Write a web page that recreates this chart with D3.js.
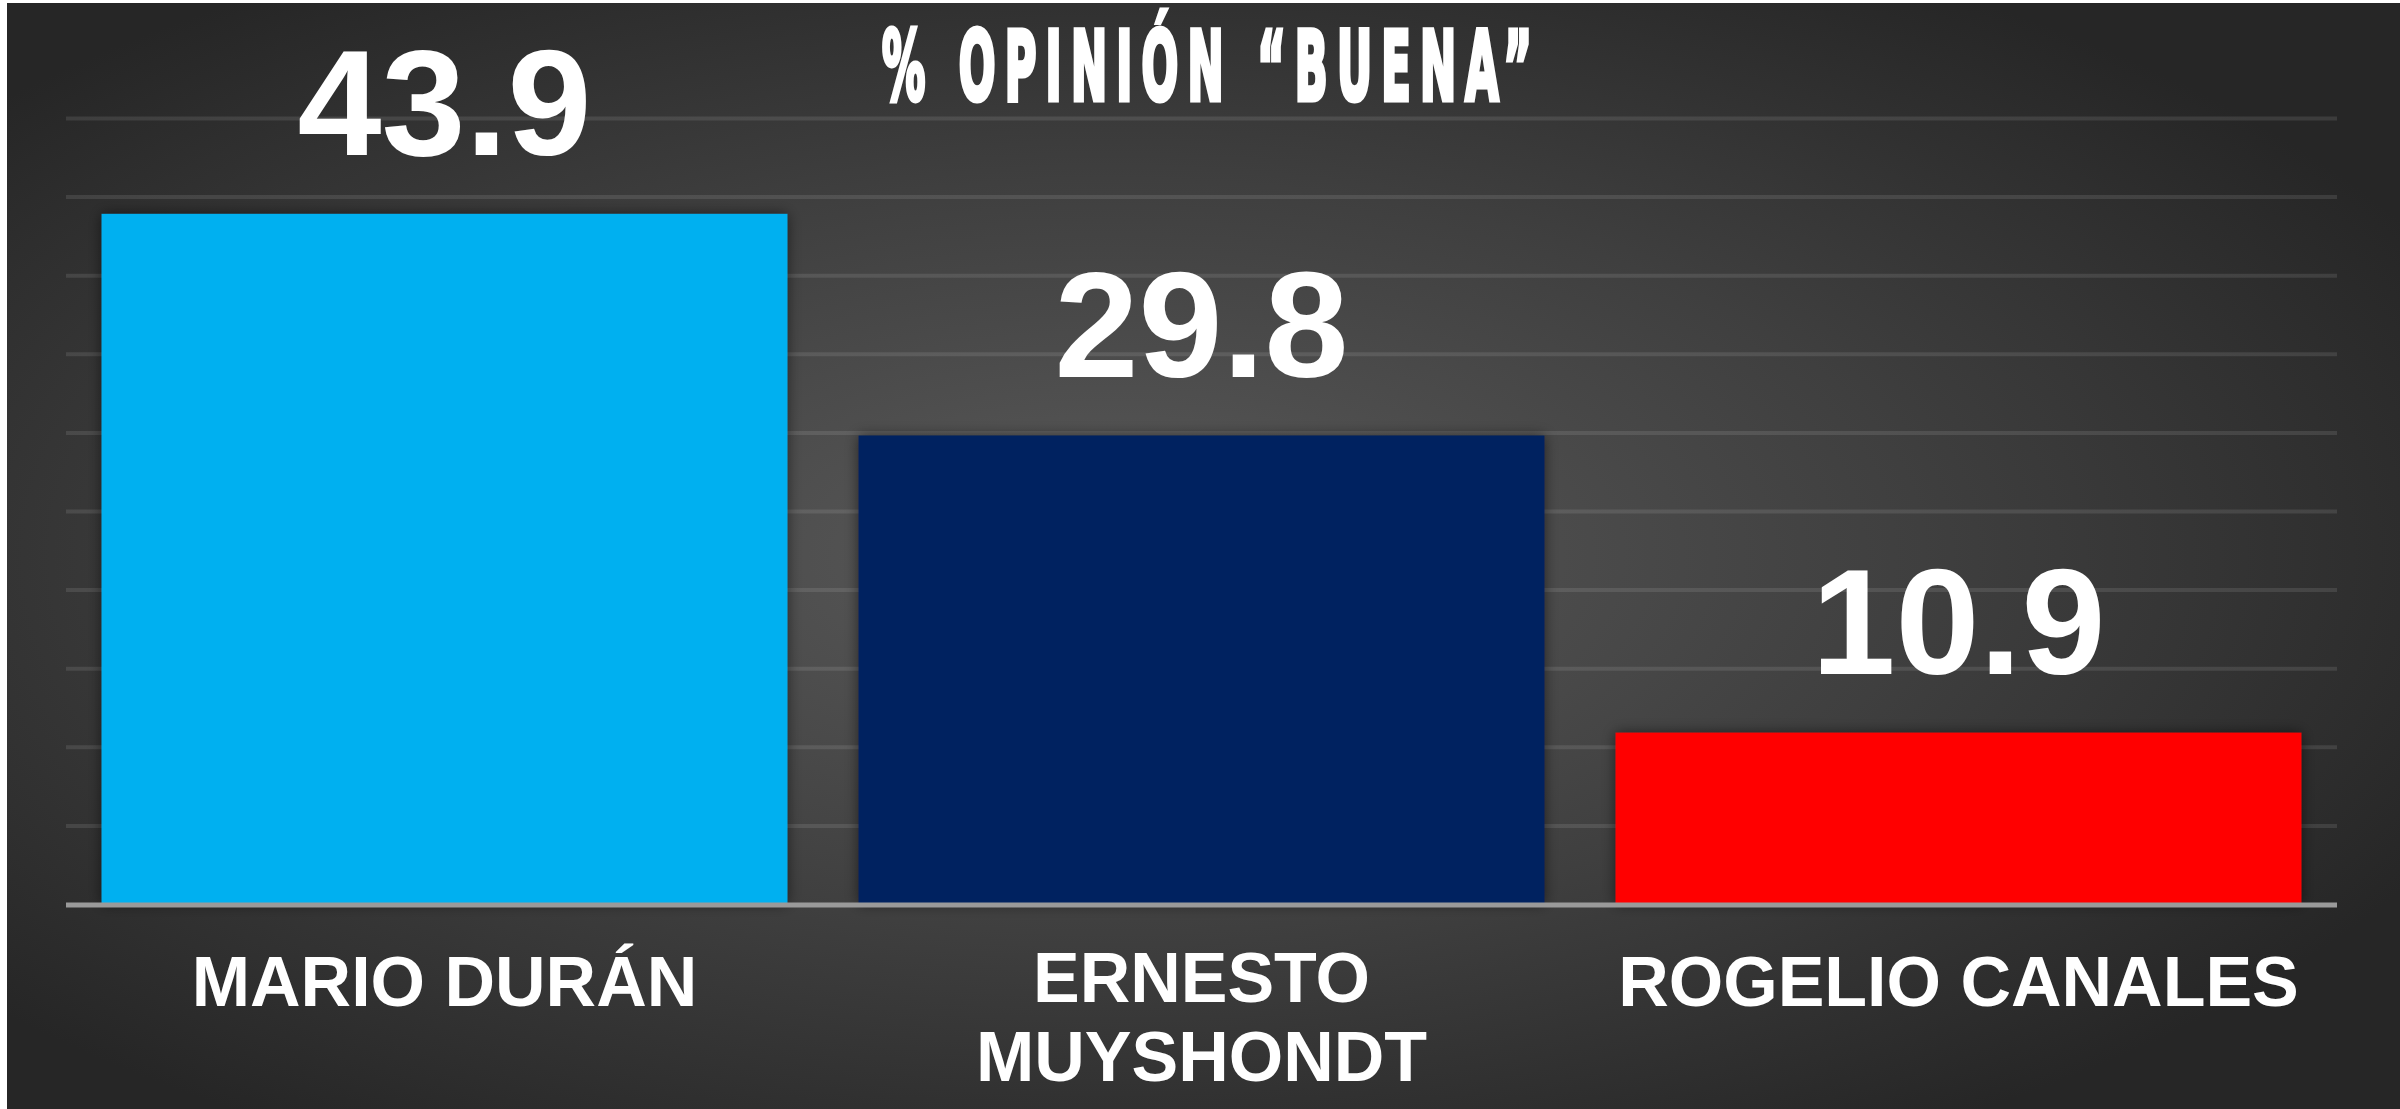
<!DOCTYPE html>
<html>
<head>
<meta charset="utf-8">
<script src="https://cdn.jsdelivr.net/npm/d3@7"></script>
<style>
  body { margin: 0; background: #fff; }
</style>
</head>
<body>
<div id="chart"></div>
<script>
var W = 2400, H = 1109;

var categories = ["MARIO DURÁN", "ERNESTO MUYSHONDT", "ROGELIO CANALES"];
var values = [43.9, 29.8, 10.9];
var barColors = ["#00B0F0", "#002060", "#FF0000"];
var titleText = "% OPINIÓN “BUENA”";

var margin = {left: 66, right: 63, top: 118, bottom: 205};
var plotW = W - margin.left - margin.right,
    plotH = H - margin.top - margin.bottom;

var svg = d3.select("#chart").append("svg")
  .attr("width", W)
  .attr("height", H);

var defs = svg.append("defs");

var bg = defs.append("radialGradient")
  .attr("id", "bg")
  .attr("cx", "46%").attr("cy", "50%")
  .attr("r", "62%");
bg.append("stop").attr("offset", "0%").attr("stop-color", "#5a5a5a");
bg.append("stop").attr("offset", "55%").attr("stop-color", "#3f3f3f");
bg.append("stop").attr("offset", "100%").attr("stop-color", "#262626");

var shadow = defs.append("filter")
  .attr("id", "shadow")
  .attr("x", "-10%").attr("y", "-10%")
  .attr("width", "120%").attr("height", "120%");
shadow.append("feDropShadow")
  .attr("dx", 0).attr("dy", 0)
  .attr("stdDeviation", 7)
  .attr("flood-color", "#000")
  .attr("flood-opacity", 0.55);

svg.append("rect")
  .attr("x", 7).attr("y", 3)
  .attr("width", W - 7).attr("height", H - 3)
  .attr("fill", "url(#bg)");

var g = svg.append("g")
  .attr("transform", "translate(" + margin.left + "," + margin.top + ")");

var x = d3.scaleBand()
  .domain(categories)
  .range([0, plotW])
  .paddingInner(0.094)
  .paddingOuter(0.047);

var y = d3.scaleLinear()
  .domain([0, 50])
  .range([plotH, 0]);

// gridlines
var grid = g.append("g")
  .call(d3.axisLeft(y).tickValues(d3.range(5, 51, 5)).tickSize(-plotW).tickFormat(""));
grid.select(".domain").remove();
grid.selectAll("line")
  .attr("stroke", "#ffffff")
  .attr("stroke-opacity", 0.1)
  .attr("stroke-width", 4);

// bars
g.selectAll(".bar")
  .data(values)
  .enter().append("rect")
  .attr("class", "bar")
  .attr("x", function(d, i) { return x(categories[i]); })
  .attr("y", function(d) { return y(d); })
  .attr("width", x.bandwidth())
  .attr("height", function(d) { return y(0) - y(d); })
  .attr("fill", function(d, i) { return barColors[i]; })
  .attr("filter", "url(#shadow)");

// baseline
g.append("line")
  .attr("x1", 0).attr("x2", plotW)
  .attr("y1", y(0) + 1).attr("y2", y(0) + 1)
  .attr("stroke", "#9a9a9a")
  .attr("stroke-width", 5);

// value labels
g.selectAll(".val")
  .data(values)
  .enter().append("text")
  .attr("class", "val")
  .attr("x", function(d, i) { return x(categories[i]) + x.bandwidth() / 2; })
  .attr("y", function(d) { return y(d) - 59; })
  .attr("text-anchor", "middle")
  .attr("fill", "#fff")
  .style("font-family", "'Liberation Sans', Arial, sans-serif")
  .style("font-weight", "bold")
  .style("font-size", "151px")
  .text(function(d) { return d3.format(".1f")(d); });

// category labels, wrapped to band width
var xAxis = g.append("g")
  .attr("transform", "translate(0," + plotH + ")");

var lineGap = 79;
categories.forEach(function(c) {
  var cx = x(c) + x.bandwidth() / 2;
  var t = xAxis.append("text")
    .attr("x", cx)
    .attr("y", 102)
    .attr("text-anchor", "middle")
    .attr("fill", "#fff")
    .style("font-family", "'Liberation Sans', Arial, sans-serif")
    .style("font-weight", "bold")
    .style("font-size", "70px");
  var words = c.split(" "), line = [], lines = 1;
  var tspan = t.append("tspan").attr("x", cx).attr("dy", 0);
  words.forEach(function(w) {
    line.push(w);
    tspan.text(line.join(" "));
    if (tspan.node().getComputedTextLength() > x.bandwidth() && line.length > 1) {
      line.pop();
      tspan.text(line.join(" "));
      line = [w];
      lines++;
      tspan = t.append("tspan").attr("x", cx).attr("dy", lineGap).text(w);
    }
  });
  if (lines > 1) t.attr("y", 98);
});

// title: narrow display look, squeezed horizontally with wide spacing
svg.append("g")
  .attr("transform", "translate(1207,100) scale(0.5,1)")
  .append("text")
  .attr("x", 0)
  .attr("y", 0)
  .attr("text-anchor", "middle")
  .attr("fill", "#fff")
  .attr("stroke", "#fff")
  .attr("stroke-width", 4)
  .attr("vector-effect", "non-scaling-stroke")
  .attr("textLength", 1300)
  .attr("lengthAdjust", "spacing")
  .style("font-family", "'Liberation Sans Narrow', 'DejaVu Sans Condensed', sans-serif")
  .style("font-weight", "bold")
  .style("font-size", "96px")
  .text(titleText);
</script>
</body>
</html>
